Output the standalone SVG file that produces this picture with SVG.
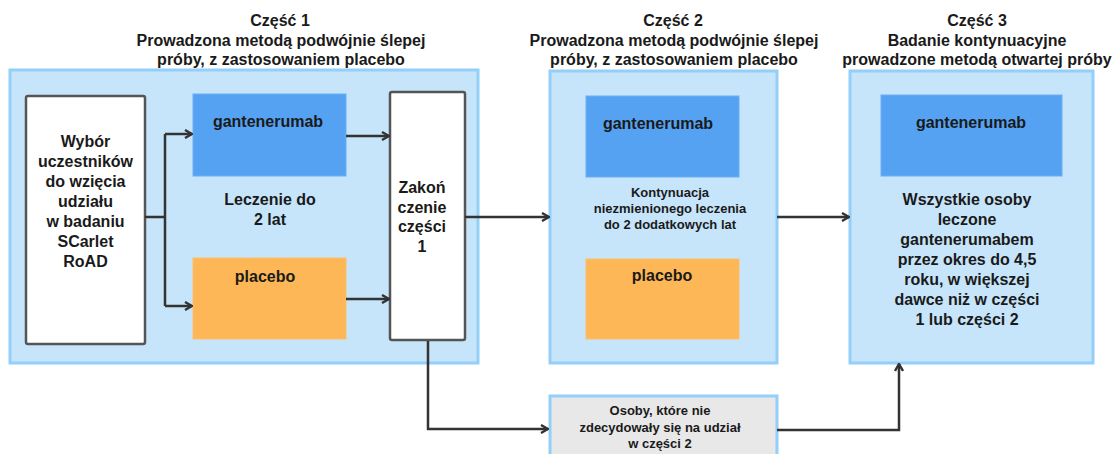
<svg xmlns="http://www.w3.org/2000/svg" width="1115" height="454" viewBox="0 0 1115 454">
<defs>
<style>
text{font-family:"Liberation Sans",Arial,sans-serif;font-weight:bold;fill:#1a1a1a;text-anchor:middle}
.h{font-size:16px}
.t{font-size:16px}
.s{font-size:13px}
.panel{fill:#c6e5fb;stroke:#93cff8;stroke-width:3}
.white{fill:#ffffff;stroke:#555555;stroke-width:2.5}
.blue{fill:#56a2f2;stroke:#6aaff3;stroke-width:1}
.orange{fill:#fdb756;stroke:#fdbf6a;stroke-width:1}
.grey{fill:#e8e8e8;stroke:#93cff8;stroke-width:3}
.c{fill:none;stroke:#333333;stroke-width:2.5}
</style>
<marker id="arr" viewBox="0 0 10 10" refX="9" refY="5" markerWidth="10" markerHeight="10" markerUnits="userSpaceOnUse" orient="auto">
<path d="M2,1 L9,5 L2,9" fill="none" stroke="#333333" stroke-width="2.4"/>
</marker>
</defs>
<g id="headers">
<text class="h" x="280" y="26">Część 1</text>
<text class="h" x="281" y="46">Prowadzona metodą podwójnie ślepej</text>
<text class="h" x="281" y="65">próby, z zastosowaniem placebo</text>
<text class="h" x="673" y="26">Część 2</text>
<text class="h" x="674" y="46">Prowadzona metodą podwójnie ślepej</text>
<text class="h" x="674" y="65">próby, z zastosowaniem placebo</text>
<text class="h" x="977" y="26">Część 3</text>
<text class="h" x="977" y="46">Badanie kontynuacyjne</text>
<text class="h" x="977" y="65">prowadzone metodą otwartej próby</text>
</g>
<g id="part1">
<rect class="panel" x="10" y="70" width="468" height="293"/>
</g>
<g id="part2">
<rect class="panel" x="550" y="71" width="227" height="292"/>
</g>
<g id="part3">
<rect class="panel" x="850" y="71" width="243" height="292"/>
</g>
<g id="wybor">
<rect class="white" x="26" y="96" width="119" height="248" rx="2"/>
<text class="t" x="85.5" y="147">Wybór</text>
<text class="t" x="85.5" y="167">uczestników</text>
<text class="t" x="85.5" y="187">do wzięcia</text>
<text class="t" x="85.5" y="207">udziału</text>
<text class="t" x="85.5" y="227">w badaniu</text>
<text class="t" x="85.5" y="247">SCarlet</text>
<text class="t" x="85.5" y="267">RoAD</text>
</g>
<g id="gant1">
<rect class="blue" x="193" y="94" width="153" height="82"/>
<text class="t" x="268" y="127">gantenerumab</text>
</g>
<g id="leczenie">
<text class="t" x="270" y="205">Leczenie do</text>
<text class="t" x="270" y="225">2 lat</text>
</g>
<g id="placebo1">
<rect class="orange" x="193" y="258" width="153" height="81"/>
<text class="t" x="265" y="282">placebo</text>
</g>
<g id="zakonczenie">
<rect class="white" x="390" y="92" width="75" height="248" rx="2"/>
<text class="t" x="422" y="193">Zakoń</text>
<text class="t" x="422" y="213">czenie</text>
<text class="t" x="422" y="232">części</text>
<text class="t" x="422" y="252">1</text>
</g>
<g id="gant2">
<rect class="blue" x="586" y="96" width="153" height="81"/>
<text class="t" x="658" y="129">gantenerumab</text>
</g>
<g id="kontynuacja">
<text class="s" x="670" y="197">Kontynuacja</text>
<text class="s" x="670" y="213">niezmienionego leczenia</text>
<text class="s" x="670" y="229">do 2 dodatkowych lat</text>
</g>
<g id="placebo2">
<rect class="orange" x="586" y="259" width="153" height="80"/>
<text class="t" x="662" y="281">placebo</text>
</g>
<g id="gant3">
<rect class="blue" x="881" y="95" width="181" height="81"/>
<text class="t" x="971" y="128">gantenerumab</text>
</g>
<g id="wszystkie">
<text class="t" x="967" y="205">Wszystkie osoby</text>
<text class="t" x="967" y="225">leczone</text>
<text class="t" x="967" y="245">gantenerumabem</text>
<text class="t" x="967" y="265">przez okres do 4,5</text>
<text class="t" x="967" y="285">roku, w większej</text>
<text class="t" x="967" y="305">dawce niż w części</text>
<text class="t" x="967" y="325">1 lub części 2</text>
</g>
<g id="osoby">
<rect class="grey" x="550" y="396" width="227" height="70"/>
<text class="s" x="660" y="415">Osoby, które nie</text>
<text class="s" x="660" y="432">zdecydowały się na udział</text>
<text class="s" x="660" y="448">w części 2</text>
</g>
<g id="connectors">
<path class="c" d="M145,217 H165 M165,134 V306"/>
<path class="c" d="M165,134 H192" marker-end="url(#arr)"/>
<path class="c" d="M165,306 H192" marker-end="url(#arr)"/>
<path class="c" d="M346,136 H389" marker-end="url(#arr)"/>
<path class="c" d="M346,299 H389" marker-end="url(#arr)"/>
<path class="c" d="M465,217 H549" marker-end="url(#arr)"/>
<path class="c" d="M777,217 H849" marker-end="url(#arr)"/>
<path class="c" d="M428,341 V429 H548" marker-end="url(#arr)"/>
<path class="c" d="M777,430 H899 V364" marker-end="url(#arr)"/>
</g>
</svg>
